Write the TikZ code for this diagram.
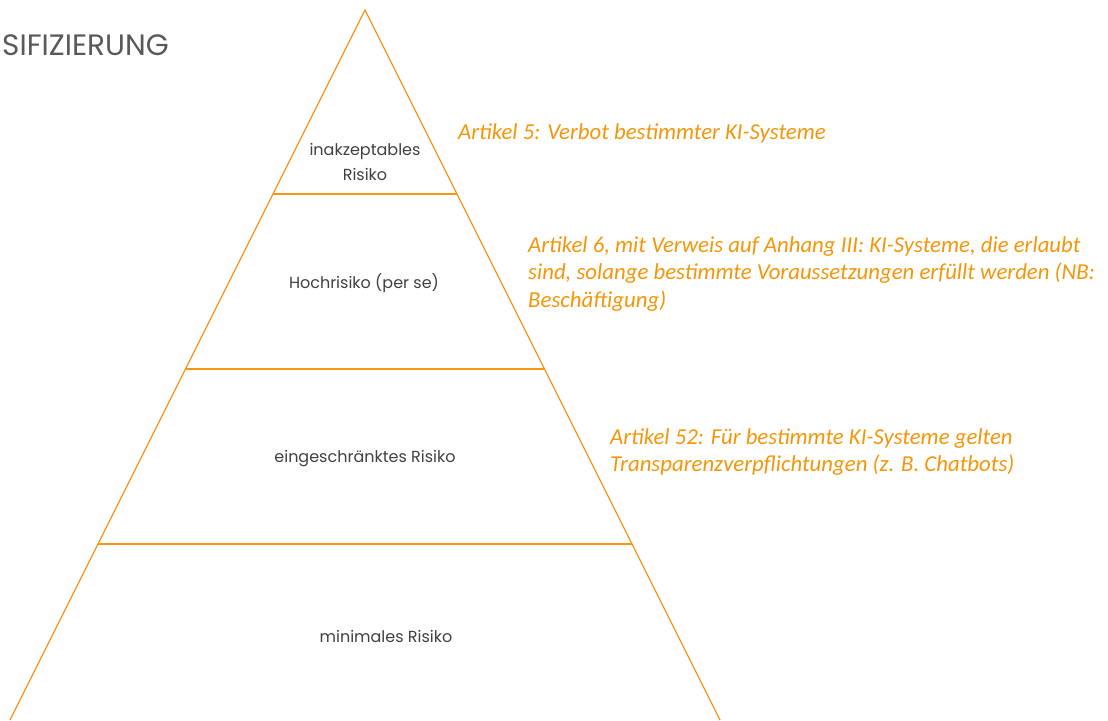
\documentclass[tikz,border=0pt]{standalone}
\usepackage{fontspec}
\setmainfont{Carlito}
\newfontfamily\gothic{Poppins}
\usetikzlibrary{calc}
\definecolor{pyr}{RGB}{247,150,20}
\definecolor{art}{RGB}{245,150,10}
\definecolor{lbl}{RGB}{64,64,64}
\definecolor{ttl}{RGB}{89,89,89}
\tikzset{
  side/.style={draw=pyr, line width=1.3pt},
  tier/.style={draw=pyr, line width=2.2pt},
  lvl/.style={text=lbl, font=\gothic\fontsize{16}{25}\selectfont, align=center, inner sep=0pt},
  arttext/.style={text=art, font=\itshape\fontsize{22.8}{27.5}\selectfont, align=left, anchor=north west, inner sep=0pt},
}
\begin{document}
\begin{tikzpicture}[x=1pt,y=-1pt]
\useasboundingbox (0,0) rectangle (1108,720);
\node[text=ttl, font=\gothic\fontsize{29.5}{30}\selectfont, anchor=west, inner sep=0pt] (title) at (2,45) {SIFIZIERUNG};
\coordinate (apex) at (365,10);
\coordinate (bl) at (10,720);
\coordinate (br) at (720,720);
\draw[side] (bl) -- (apex) -- (br);
\coordinate (l1) at ($(apex)!0.2592!(bl)$);
\coordinate (r1) at ($(apex)!0.2592!(br)$);
\coordinate (l2) at ($(apex)!0.5056!(bl)$);
\coordinate (r2) at ($(apex)!0.5056!(br)$);
\coordinate (l3) at ($(apex)!0.7521!(bl)$);
\coordinate (r3) at ($(apex)!0.7521!(br)$);
\draw[tier] (l1) -- (r1);
\draw[tier] (l2) -- (r2);
\draw[tier] (l3) -- (r3);
\node[lvl] (t1) at (365,162) {inakzeptables\\Risiko};
\node[lvl] (t2) at (364,283) {Hochrisiko (per se)};
\node[lvl] (t3) at (365,459) {eingeschränktes Risiko};
\node[lvl] (t4) at (386,636) {minimales Risiko};
\node[arttext] (a1) at (458,123) {Artikel 5: Verbot bestimmter KI-Systeme};
\node[arttext] (a2) at (528,236) {Artikel 6, mit Verweis auf Anhang III: KI-Systeme, die erlaubt\\sind, solange bestimmte Voraussetzungen erfüllt werden (NB:\\Beschäftigung)};
\node[arttext] (a3) at (610,428) {Artikel 52: Für bestimmte KI-Systeme gelten\\Transparenzverpflichtungen (z. B. Chatbots)};
\end{tikzpicture}
\end{document}
